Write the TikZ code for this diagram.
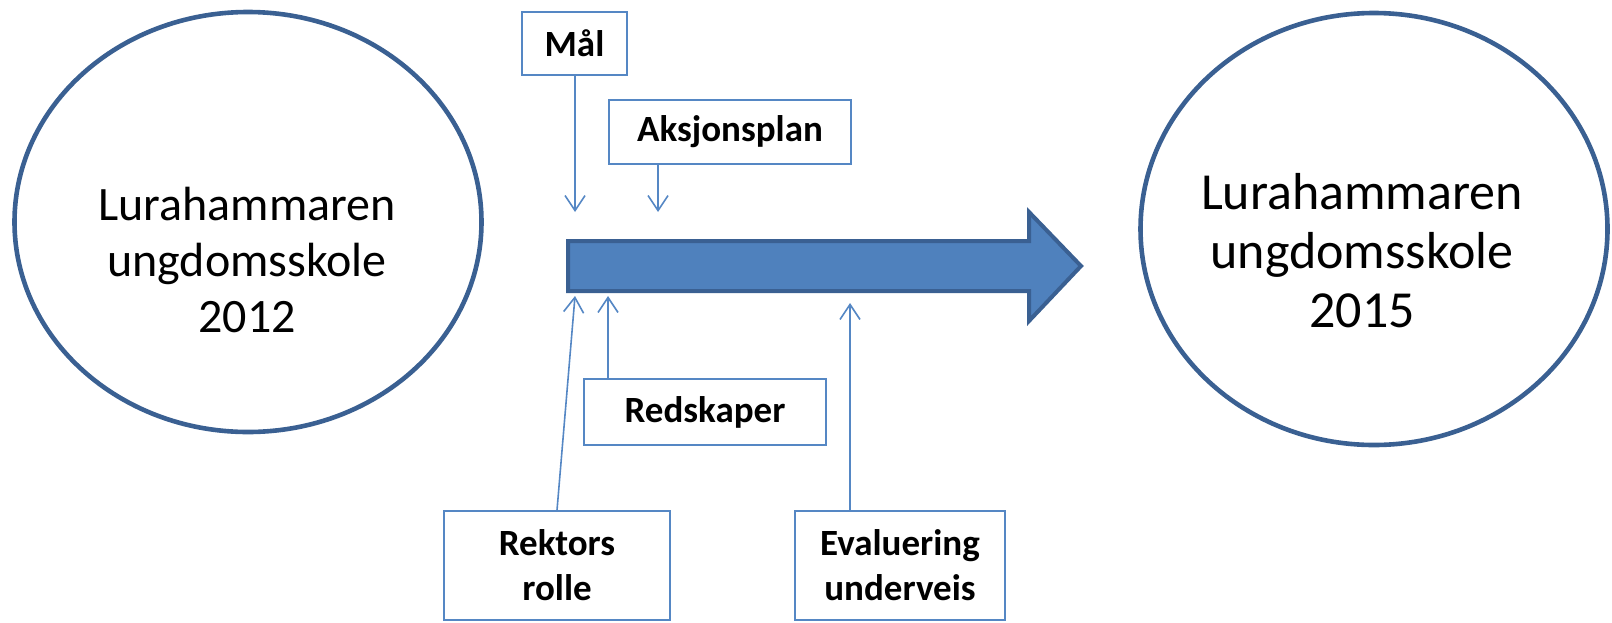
\documentclass[tikz,border=0pt]{standalone}
\usepackage{fontspec}
\setmainfont{Carlito}
\usetikzlibrary{arrows.meta,shapes.geometric}

\definecolor{ringblue}{HTML}{3A6092}
\definecolor{fillblue}{HTML}{4F81BD}
\definecolor{edgeblue}{HTML}{5587C4}

\begin{document}
\begin{tikzpicture}[x=1pt,y=-1pt,>={Straight Barb[length=15pt,width=20pt]},
	ring/.style={ellipse,draw=ringblue,line width=4.6pt,inner sep=0},
	ringtext/.style={inner sep=0,align=center},
	lbl/.style={draw=edgeblue,line width=1.6pt,inner sep=0,align=center,
		font=\bfseries\fontsize{37}{45}\selectfont},
	conn/.style={draw=edgeblue,line width=1.6pt,->}]
	\useasboundingbox (0,0) rectangle (1612,622);
	\node[ring,minimum width=467,minimum height=420] (start) at (248,222) {};
	\node[ring,minimum width=467,minimum height=432] (goal) at (1374,229) {};
	\node[ringtext,font=\fontsize{48}{56}\selectfont] (startText) at ([xshift=-1pt,yshift=-37.5pt]start.center) {Lurahammaren\\ungdomsskole\\2012};
	\node[ringtext,font=\fontsize{52}{59}\selectfont] (goalText) at ([xshift=-12pt,yshift=-22pt]goal.center) {Lurahammaren\\ungdomsskole\\2015};
	% the big arrow
	\draw[ringblue,fill=fillblue,line width=4pt,line join=miter]
		(568,241) -- (1029,241) -- (1029,212) -- (1081,266) -- (1029,321) -- (1029,291) -- (568,291) -- cycle;
	\node[lbl,minimum width=105,minimum height=63] (mal) at (574.5,43.5) {Mål};
	\node[lbl,minimum width=242,minimum height=64] (aksjon) at (730,132) {Aksjonsplan};
	\node[lbl,minimum width=242,minimum height=66] (redskap) at (705,412) {Redskaper};
	\node[lbl,minimum width=226,minimum height=109] (rektor) at (557,565.5) {Rektors\\rolle};
	\node[lbl,minimum width=210,minimum height=109] (evaluer) at (900,565.5) {Evaluering\\underveis};
	\coordinate (malTip) at (575,212);
	\coordinate (aksjonTip) at (658,212);
	\coordinate (rektorTip) at (575,296);
	\coordinate (redskapTip) at (608,296);
	\coordinate (evaluerTip) at (850,303);
	\draw[conn] (mal.south -| malTip) -- (malTip);
	\draw[conn] (aksjon.south -| aksjonTip) -- (aksjonTip);
	\draw[conn] (rektor.north) -- (rektorTip);
	\draw[conn] (redskap.north -| redskapTip) -- (redskapTip);
	\draw[conn] (evaluer.north -| evaluerTip) -- (evaluerTip);
\end{tikzpicture}
\end{document}
